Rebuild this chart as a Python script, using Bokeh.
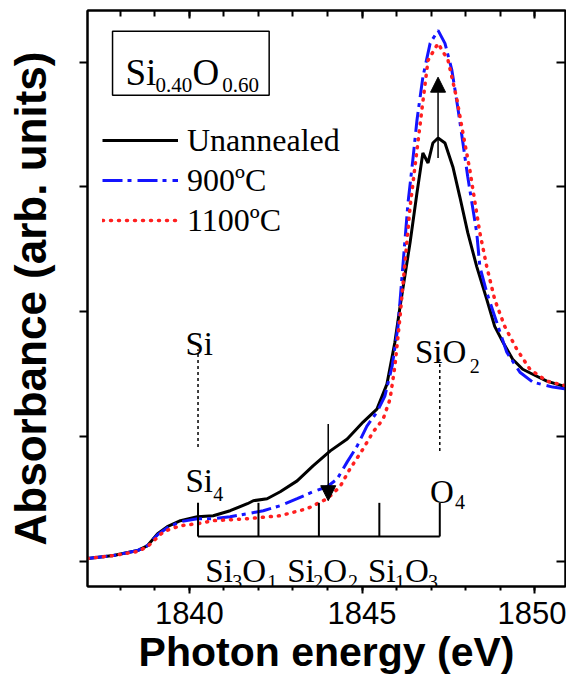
from bokeh.plotting import figure
from bokeh.models import (Range1d, LinearAxis, SingleIntervalTicker, FixedTicker, Legend,
                          LegendItem, Arrow, NormalHead, BoxAnnotation, CustomJSTickFormatter)
from bokeh.core.properties import value
from bokeh.embed import file_html
from bokeh.resources import INLINE

# ---------------- data ----------------
unann_e = [1837.05, 1837.80, 1838.50, 1838.79, 1839.08, 1839.36, 1839.74, 1840.23, 1840.69,
           1841.18, 1841.68, 1841.85, 1842.25, 1842.63, 1843.12, 1843.58, 1844.08, 1844.57,
           1845.03, 1845.43, 1845.72, 1845.95, 1846.10, 1846.39, 1846.59, 1846.76, 1846.91,
           1847.05, 1847.20, 1847.40, 1847.63, 1847.83, 1848.06, 1848.32, 1848.61, 1848.84,
           1849.08, 1849.36, 1849.65, 1849.94, 1850.35, 1850.93]
unann_a = [0.024, 0.048, 0.088, 0.128, 0.223, 0.279, 0.327, 0.359, 0.367,
           0.407, 0.463, 0.487, 0.503, 0.559, 0.646, 0.766, 0.886, 0.982,
           1.117, 1.221, 1.421, 1.756, 2.043, 2.554, 2.953, 3.272, 3.192,
           3.352, 3.392, 3.352, 3.160, 2.921, 2.634, 2.362, 2.099, 1.883,
           1.756, 1.620, 1.540, 1.500, 1.445, 1.397]

a900_e = [1837.05, 1837.80, 1838.50, 1838.79, 1839.08, 1839.36, 1839.74, 1840.23, 1840.69,
          1841.18, 1841.68, 1842.14, 1842.63, 1843.12, 1843.58, 1843.99, 1844.28, 1844.57,
          1844.86, 1845.14, 1845.43, 1845.66, 1845.87, 1846.04, 1846.18, 1846.33, 1846.47,
          1846.59, 1846.76, 1846.97, 1847.20, 1847.40, 1847.60, 1847.77, 1847.92, 1848.06,
          1848.18, 1848.32, 1848.41, 1848.61, 1848.90, 1849.19, 1849.57, 1849.94, 1850.52,
          1850.93]
a900_a = [0.024, 0.048, 0.088, 0.128, 0.215, 0.271, 0.319, 0.343, 0.343,
          0.359, 0.383, 0.407, 0.447, 0.503, 0.559, 0.599, 0.662, 0.798,
          0.926, 1.085, 1.197, 1.325, 1.564, 1.883, 2.362, 2.873, 3.216,
          3.536, 3.879, 4.150, 4.254, 4.150, 3.935, 3.639, 3.352, 3.081,
          2.873, 2.634, 2.362, 2.155, 1.915, 1.676, 1.516, 1.437, 1.397,
          1.381]

a1100_e = [1837.05, 1837.80, 1838.50, 1838.79, 1839.25, 1839.74, 1840.23, 1840.69, 1841.68,
           1842.63, 1843.41, 1843.99, 1844.36, 1844.65, 1845.03, 1845.32, 1845.61, 1845.81,
           1845.95, 1846.10, 1846.39, 1846.59, 1846.73, 1846.91, 1847.20, 1847.49, 1847.75,
           1847.92, 1848.12, 1848.27, 1848.41, 1848.61, 1848.84, 1849.13, 1849.48, 1849.86,
           1850.35, 1850.93]
a1100_a = [0.024, 0.048, 0.080, 0.120, 0.239, 0.287, 0.303, 0.327, 0.343,
           0.367, 0.423, 0.503, 0.599, 0.742, 0.902, 1.038, 1.141, 1.301,
           1.564, 1.963, 2.841, 3.296, 3.615, 4.014, 4.150, 4.014, 3.695,
           3.432, 3.136, 2.873, 2.634, 2.362, 2.099, 1.883, 1.700, 1.540,
           1.445, 1.405]

series_labels = ["Unannealed", "900ºC", "1100ºC"]
x_ticks_major = 5
y_ticks = [0, 1, 2, 3, 4]

# SiO_x tetrahedra configuration energies (Si4 ... O4)
tetra_energy = [1840.25, 1842.0, 1843.75, 1845.5, 1847.25]

# ---------------- figure ----------------
p = figure(width=566, height=677, x_range=Range1d(1837.05, 1850.89), y_range=Range1d(-0.20, 4.413),
           output_backend="svg", toolbar_location=None,
           min_border_left=87, min_border_right=1, min_border_top=10, min_border_bottom=89)
p.grid.visible = False
p.outline_line_color = "black"
p.outline_line_width = 2
p.background_fill_color = "white"
p.border_fill_color = "white"

blank = CustomJSTickFormatter(code="return ''")

xa = p.xaxis[0]
xa.ticker = SingleIntervalTicker(interval=x_ticks_major, num_minor_ticks=5)
xa.major_tick_out = 7
xa.major_tick_in = 0
xa.minor_tick_out = 4
xa.minor_tick_in = 0
xa.axis_line_width = 2
xa.major_tick_line_width = 2
xa.minor_tick_line_width = 2
xa.major_label_text_font = "Liberation Sans"
xa.major_label_text_font_size = "31px"
xa.major_label_text_color = "black"
xa.major_label_standoff = 8
xa.axis_label = "Photon energy (eV)"
xa.axis_label_text_font = "Liberation Sans"
xa.axis_label_text_font_style = "bold"
xa.axis_label_text_font_size = "41px"
xa.axis_label_text_color = "black"
xa.axis_label_standoff = 2

ya = p.yaxis[0]
ya.ticker = FixedTicker(ticks=y_ticks, minor_ticks=[])
ya.formatter = blank
ya.major_tick_out = 8
ya.major_tick_in = 0
ya.axis_line_width = 2
ya.major_tick_line_width = 2
ya.major_label_text_font_size = "0px"
ya.major_label_standoff = 0
ya.axis_label = "Absorbance (arb. units)"
ya.axis_label_text_font = "Liberation Sans"
ya.axis_label_text_font_style = "bold"
ya.axis_label_text_font_size = "44px"
ya.axis_label_text_color = "black"
ya.axis_label_standoff = 25

top = LinearAxis(ticker=SingleIntervalTicker(interval=x_ticks_major, num_minor_ticks=5),
                 formatter=blank, major_tick_in=8, major_tick_out=0, minor_tick_in=6,
                 minor_tick_out=0, major_label_text_font_size="0px", major_label_standoff=0,
                 axis_line_width=2, major_tick_line_width=2, minor_tick_line_width=2)
p.add_layout(top, "above")
right = LinearAxis(ticker=FixedTicker(ticks=y_ticks, minor_ticks=[]), formatter=blank,
                   major_tick_in=9, major_tick_out=0, minor_tick_in=0, minor_tick_out=0,
                   major_label_text_font_size="0px", major_label_standoff=0,
                   axis_line_width=2, major_tick_line_width=2)
p.add_layout(right, "right")

# ---------------- curves ----------------
r_un = p.line(unann_e, unann_a, line_color="black", line_width=3)
r_900 = p.line(a900_e, a900_a, line_color="#1414ff", line_width=3, line_dash="20 5 4 6")
r_1100 = p.line(a1100_e, a1100_a, line_color="#ff1f1f", line_width=3.5, line_dash="1 7",
                line_cap="round")

legend = Legend(items=[LegendItem(label=series_labels[0], renderers=[r_un]),
                       LegendItem(label=series_labels[1], renderers=[r_900]),
                       LegendItem(label=series_labels[2], renderers=[r_1100])],
                location=(15, 347), padding=0, margin=0, spacing=2,
                glyph_width=76, glyph_height=38, label_height=38, label_standoff=9,
                label_text_font="Liberation Serif", label_text_font_size="32px",
                label_text_color="black", border_line_color=None, background_fill_alpha=0)
p.add_layout(legend)

# ---------------- annotations ----------------
serif = value("Liberation Serif")

# composition box
p.add_layout(BoxAnnotation(left=1837.775, right=1842.31, bottom=3.735, top=4.246,
                           fill_color=None, fill_alpha=0, line_color="black", line_alpha=1,
                           line_width=1.5))
p.text(x=[1838.15, 1840.087], y=[3.919, 3.919], text=["Si", "O"], text_font=serif,
       text_font_size="37px", text_baseline="alphabetic", text_align="left", text_color="black")
p.text(x=[1839.017, 1840.954], y=[3.815, 3.815], text=["0.40", "0.60"], text_font=serif,
       text_font_size="21px", text_baseline="alphabetic", text_align="left", text_color="black")

# dashed reference lines
p.segment(x0=[tetra_energy[0], tetra_energy[-1]], y0=[0.918, 0.886],
          x1=[tetra_energy[0], tetra_energy[-1]], y1=[1.70, 1.62],
          line_color="black", line_width=1.5, line_dash="3 3")

# tetrahedra bracket
p.segment(x0=[tetra_energy[0]], y0=[0.20], x1=[tetra_energy[-1]], y1=[0.20],
          line_color="black", line_width=2)
p.segment(x0=tetra_energy, y0=[0.20] * 5, x1=tetra_energy, y1=[0.47] * 5,
          line_color="black", line_width=2)

main_x = [1839.884, 1846.532, 1839.884, 1846.965, 1840.462, 1841.532, 1842.832, 1843.873,
          1845.173, 1846.243]
main_y = [1.740, 1.676, 0.646, 0.559, -0.072, -0.072, -0.072, -0.072, -0.072, -0.072]
main_t = ["Si", "SiO", "Si", "O", "Si", "O", "Si", "O", "Si", "O"]
sub_x = [1848.121, 1840.694, 1847.688, 1841.243, 1842.254, 1843.584, 1844.595, 1845.954,
         1846.908]
sub_y = [1.564, 0.543, 0.479, -0.160, -0.160, -0.160, -0.160, -0.160, -0.160]
sub_t = ["2", "4", "4", "3", "1", "2", "2", "1", "3"]
p.text(x=main_x, y=main_y, text=main_t, text_font=serif, text_font_size="33px",
       text_baseline="alphabetic", text_align="left", text_color="black")
p.text(x=sub_x, y=sub_y, text=sub_t, text_font=serif, text_font_size="20px",
       text_baseline="alphabetic", text_align="left", text_color="black")

# arrows
p.add_layout(Arrow(end=NormalHead(size=15, fill_color="black", line_color="black"),
                   x_start=1847.2, y_start=3.232, x_end=1847.2, y_end=3.879,
                   line_color="black", line_width=1.5))
p.add_layout(Arrow(end=NormalHead(size=15, fill_color="black", line_color="black"),
                   x_start=1844.02, y_start=1.101, x_end=1844.02, y_end=0.487,
                   line_color="black", line_width=1.5))

open("out.html", "w").write(file_html(p, INLINE))
